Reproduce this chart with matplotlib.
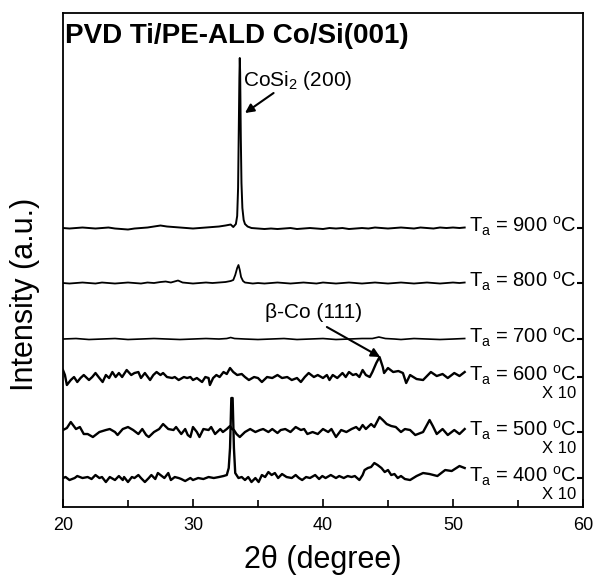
import matplotlib
matplotlib.use("Agg")
import matplotlib.pyplot as plt
from matplotlib.ticker import MultipleLocator

plt.rcParams['font.family'] = ['Liberation Sans', 'DejaVu Sans']
plt.rcParams['mathtext.fontset'] = 'custom'
plt.rcParams['mathtext.rm'] = 'Liberation Sans'
plt.rcParams['mathtext.it'] = 'Liberation Sans:italic'

# ---------------- data (relative intensity, arbitrary units) ----------------
temps = ['900', '800', '700', '600', '500', '400']
offsets = [279, 224, 168, 130, 75, 29]
scale_marks = ['', '', '', 'X 10', 'X 10', 'X 10']

x900 = [20, 20.5, 21, 21.5, 22, 22.5, 23, 23.5, 24, 24.5, 25, 25.5, 26, 26.5, 27, 27.5,
        28, 28.5, 29, 29.5, 30, 30.5, 31, 31.5, 32, 32.5, 32.9, 33.1, 33.3, 33.4, 33.47,
        33.52, 33.57, 33.6, 33.63, 33.68, 33.73, 33.8, 33.9, 34.0, 34.2, 34.5, 35, 35.5,
        36, 36.5, 37, 37.5, 38, 38.5, 39, 39.5, 40, 40.5, 41, 41.5, 42, 42.5, 43, 43.5,
        44, 44.5, 45, 45.5, 46, 46.5, 47, 47.5, 48, 48.5, 49, 49.5, 50, 50.5, 50.9]
y900 = [0, -0.5, 0, 0.5, 0, -0.5, 0, 0.5, -0.5, -1, -1.5, -0.5, 0, 0.5, 1.5, 2.5,
        1.5, 1, 0.5, 0, -0.5, 0, 0.5, 1, 1.5, 2.5, 3.5, 1, 4, 12, 40,
        95, 150, 170, 155, 90, 45, 20, 8, 4, 1.5, 0, -0.5, -1,
        -0.5, -1, -0.5, 0, -1, -0.5, 0, -0.5, -1, 0, -0.5, 0, -1, -0.5, 0, -0.5,
        0.5, 0, -0.5, 0, 0.5, 0, -0.5, 0.5, 0, -0.5, 0.5, 0, 0.5, 0, 0.5]

x800 = [20, 20.5, 21, 21.5, 22, 22.5, 23, 23.5, 24, 24.5, 25, 25.5, 26, 26.5, 27, 27.5,
        27.9, 28.3, 28.85, 29.2, 29.6, 30, 30.5, 31, 31.5, 32, 32.5, 32.9, 33.1, 33.25,
        33.4, 33.5, 33.6, 33.7, 33.85, 34.0, 34.3, 34.6, 35, 35.5, 36, 36.5, 37, 37.5,
        38, 38.5, 39, 39.5, 40, 40.5, 41, 41.5, 42, 42.5, 43, 43.5, 44, 44.5, 45, 45.5,
        46, 46.5, 47, 47.5, 48, 48.5, 49, 49.5, 50, 50.5, 50.9]
y800 = [0, -0.5, 0, 0.5, 0, -0.5, 0.5, 0, -0.5, 0, 0.5, 0, -0.5, 0.5, 0, 1,
        1.5, 0.5, 2.5, 0.5, 0, -0.5, 0, 0.5, 0, 0.5, 1, 2, 3, 8,
        15, 18, 13, 6, 2, 0.5, 0, -0.5, 0, -0.5, 0, 0.5, 0, -0.5,
        0, 0.5, 0, -0.5, 0.5, 0, -0.5, 0, 0.5, 0, -0.5, 0, 0.5, 0, -0.5, 0,
        0.5, 0, -0.5, 0, 0.5, 0, -0.5, 0, 0.5, 0, 0.5]

x700 = [20, 21, 22, 23, 24, 25, 26, 27, 28, 29, 30, 31, 32, 32.6, 32.9, 33.2, 34,
        35, 36, 37, 38, 39, 40, 41, 42, 43, 43.8, 44.3, 44.8, 45.5, 46, 47, 48, 49,
        50, 50.9]
y700 = [0, 0.5, -0.5, 0, 0.5, -0.5, 0, 0.5, 0, -0.5, 0, 0.5, 0, 0.5, 1.5, 0.5, 0,
        -0.5, 0, 0.5, -0.5, 0, 0.5, -0.5, 0, 0.5, 0.5, 2, 0.5, 0, -0.5, 0.5, 0, -0.5,
        0, 0.5]

x600 = [20.0, 20.15, 20.3, 20.6, 20.85, 21.1, 21.35, 21.6, 22.0, 22.25, 22.5, 22.8,
        23.05, 23.3, 23.55, 23.8, 24.05, 24.3, 24.55, 24.9, 25.25, 25.5, 25.8, 26.0,
        26.3, 26.7, 26.95, 27.2, 27.5, 27.7, 28.0, 28.4, 28.6, 28.9, 29.3, 29.55,
        29.8, 30.0, 30.3, 30.7, 30.95, 31.2, 31.3, 31.55, 31.8, 32.05, 32.35, 32.6,
        32.85, 33.1, 33.4, 33.75, 34.0, 34.3, 34.7, 35.0, 35.3, 35.7, 36.1, 36.5, 36.85,
        37.25, 37.6, 38.0, 38.3, 38.6, 38.9, 39.3, 39.6, 40.0, 40.3, 40.5, 40.75, 41.1,
        41.5, 41.75, 42.0, 42.3, 42.55, 42.8, 43.05, 43.3, 43.6, 43.8, 44.1, 44.35,
        44.6, 44.7, 45.0, 45.4, 45.8, 46.15, 46.4, 46.7, 47.2, 47.7, 48.3, 48.75,
        49.2, 49.6, 50.1, 50.5, 50.9]
y600 = [7, 2, -8, -3, 0, -5, -1, 2, -3, 0, 4, -1,
        -5, 2, -1, 5, 0, 4, 0, 7, 2, 4, 5, -1,
        4, -3, 2, 5, 2, 4, 0, -1, 0, -3, 0, -1,
        0, -3, -1, -5, 0, -1, -8, -1, 2, 0, 5, 3,
        9, 5, 2, 3, 0, -3, 0, -1, -5, 0, -1, 2, -1,
        0, -3, -1, -5, 0, 4, 0, 2, -1, 2, -3, 2, -1,
        4, 0, 5, 2, 3, 0, 7, 2, 0, 5, 14, 20,
        10, 4, 9, 5, 6, 4, -6, 2, -2, -3, 5, 1,
        3, -1, 4, 1, 5]

x500 = [20.0, 20.3, 20.6, 21.0, 21.3, 21.6, 21.9, 22.3, 22.8, 23.3, 23.6, 24.0, 24.2,
        24.6, 25.0, 25.4, 25.8, 26.1, 26.4, 26.6, 27.0, 27.4, 27.7, 28.1, 28.5, 28.7,
        29.1, 29.4, 29.6, 29.8, 30.0, 30.3, 30.5, 30.8, 31.2, 31.4, 31.7, 32.1, 32.3,
        32.6, 32.85, 33.0, 33.15, 33.35, 33.6, 34.0, 34.4, 34.8, 35.15, 35.4, 35.8,
        36.1, 36.5, 36.75, 37.1, 37.5, 37.9, 38.3, 38.55, 38.8, 39.2, 39.6, 40.0, 40.4,
        40.65, 41.0, 41.4, 41.8, 42.2, 42.55, 42.8, 43.05, 43.3, 43.7, 43.95, 44.35,
        44.6, 44.9, 45.25, 45.6, 46.0, 46.3, 46.7, 47.1, 47.7, 48.2, 48.45, 48.75, 49.2,
        49.6, 50.1, 50.5, 50.9]
y500 = [2, 4, 10, 3, 5, -2, -2, -5, 0, 2, 3, 0, -3,
        3, 5, 2, -2, 3, -3, -5, 0, 3, 8, 3, 2, 5,
        -2, 3, -3, -5, 5, 0, -5, 3, 2, 5, -2, 3, 0,
        3, 6, 3, 2, -2, -5, 0, 3, 0, 2, 3, 0,
        3, -1, 2, 3, 0, 5, 2, 3, -2, 0, -2, 3, 0,
        3, -5, 2, 0, 3, 5, 2, 7, 3, 8, 5, 15,
        12, 8, 6, 5, 0, 3, 2, -3, 0, 12, 6, -2, 3,
        -3, 2, -2, 3]

x400 = [20.0, 20.2, 20.5, 20.9, 21.1, 21.5, 21.9, 22.2, 22.5, 22.8, 23.0, 23.3, 23.6,
        24.0, 24.3, 24.6, 24.7, 25.0, 25.3, 25.5, 25.8, 26.0, 26.3, 26.6, 26.8, 27.1,
        27.3, 27.5, 27.8, 28.1, 28.3, 28.6, 28.9, 29.1, 29.4, 29.8, 30.0, 30.4, 30.8,
        31.2, 31.6, 32.0, 32.35, 32.6, 32.75, 32.85, 32.95, 33.05, 33.15, 33.25, 33.5,
        33.75, 34.0, 34.25, 34.5, 34.8, 35.05, 35.3, 35.55, 35.8, 36.05, 36.3, 36.55,
        36.85, 37.2, 37.6, 37.9, 38.15, 38.4, 38.7, 39.0, 39.4, 39.7, 39.95, 40.2, 40.6,
        41.0, 41.25, 41.6, 41.9, 42.2, 42.45, 42.8, 43.05, 43.2, 43.45, 43.7, 43.95,
        44.2, 44.5, 44.75, 45.0, 45.25, 45.5, 45.75, 46.0, 46.3, 46.7, 47.2, 47.7,
        48.2, 48.8, 49.4, 49.9, 50.5, 50.9]
y400 = [0, 1, -2, 0, 2, 0, 1, -1, 3, 0, 1, -4, 1,
        -2, 2, -2, 1, -4, 1, 0, 3, 0, -4, 0, 3, -1,
        5, 3, 0, 5, -2, 1, 0, -1, -3, 0, -2, 0, -1,
        1, 0, 1, 2, 3, 10, 30, 80, 80, 30, 5, 0,
        1, -2, 1, -4, 0, -4, 3, 1, 6, 3, 5, 0,
        4, 1, 0, 3, 0, -2, 1, 0, 3, -1, 2, 0, 3,
        0, 2, 0, 2, 1, 2, -2, 3, 8, 10, 11, 15,
        13, 10, 6, 8, 3, 4, 0, 2, -1, -2, 2, 5,
        4, 2, 8, 7, 12, 10]

xs = [x900, x800, x700, x600, x500, x400]
ys = [y900, y800, y700, y600, y500, y400]
widths = [1.4, 1.3, 1.2, 1.7, 1.7, 1.7]

# ---------------- figure ----------------
fig = plt.figure(figsize=(5.93, 5.78), dpi=100)
ax = fig.add_axes([0.1062, 0.1228, 0.8769, 0.8547])

for xv, yv, off, lw in zip(xs, ys, offsets, widths):
    ax.plot(xv, [v + off for v in yv], color='black', lw=lw)

for t, off, mark in zip(temps, offsets, scale_marks):
    ax.text(51.2, off - 4, r'T$_{\rm a}$ = ' + t + r' $^{\rm o}$C', fontsize=14.5,
            va='baseline', ha='left')
    if mark:
        ax.text(59.5, off - 16, mark, fontsize=12, va='center', ha='right')

ax.text(20.15, 464, 'PVD Ti/PE-ALD Co/Si(001)', fontsize=20, fontweight='bold',
        va='baseline', ha='left')

ax.text(33.85, 427, r'CoSi$_2$ (200)', fontsize=15, va='center', ha='left')
ax.annotate('', xy=(34.0, 394), xytext=(36.2, 414),
            arrowprops=dict(arrowstyle='-|>', color='black', lw=1.5,
                            mutation_scale=13, shrinkA=0, shrinkB=0))
ax.text(39.25, 195, 'β-Co (111)', fontsize=15, va='center', ha='center')
ax.annotate('', xy=(44.4, 150), xytext=(40.3, 180),
            arrowprops=dict(arrowstyle='-|>', color='black', lw=1.5,
                            mutation_scale=13, shrinkA=0, shrinkB=0))

ax.set_xlim(20, 60)
ax.set_ylim(0, 494)
ax.xaxis.set_major_locator(MultipleLocator(10))
ax.xaxis.set_minor_locator(MultipleLocator(5))
ax.tick_params(axis='x', which='major', direction='in', length=6, width=1.2,
               labelsize=13, pad=7, top=False)
ax.tick_params(axis='x', which='minor', direction='in', length=5, width=1.2, top=False)
ax.set_yticks(offsets)
ax.tick_params(axis='y', which='both', left=False, labelleft=False, right=True,
               direction='in', length=4, width=1.5)
for s in ax.spines.values():
    s.set_linewidth(1.3)

ax.set_xlabel('2θ (degree)', fontsize=22, labelpad=8)
ax.set_ylabel('Intensity (a.u.)', fontsize=22)
ax.yaxis.set_label_coords(-0.045, 0.43)

fig.savefig('out.png', dpi=100)
